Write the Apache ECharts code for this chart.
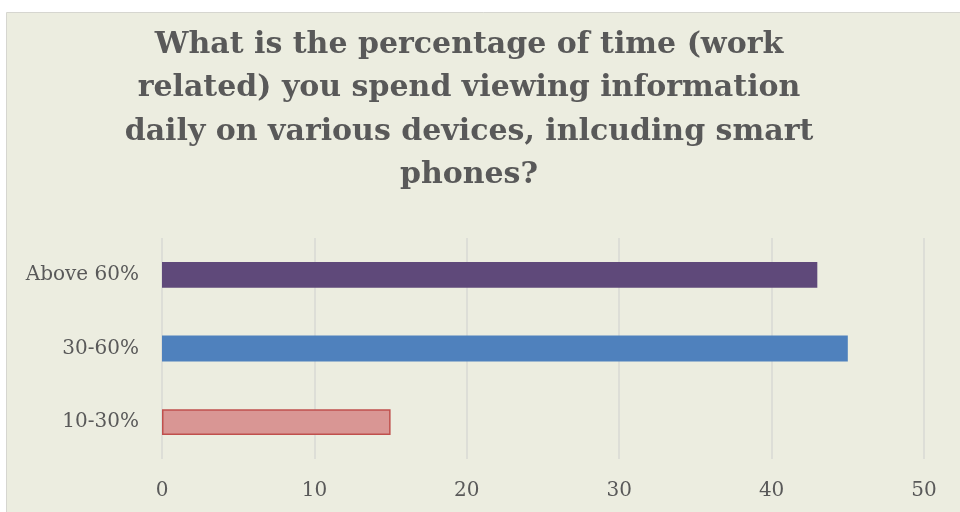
<!DOCTYPE html>
<html>
<head>
<meta charset="utf-8">
<script src="https://cdn.jsdelivr.net/npm/echarts@6/dist/echarts.min.js"></script>
<style>
  html, body { margin: 0; padding: 0; background: #ffffff; }
  #chart { width: 960px; height: 512px; }
</style>
</head>
<body>
<div id="chart"></div>
<script>
// Survey answers: share of daily work-related screen time
const categories = ['10-30%', '30-60%', 'Above 60%'];
const responses = [15, 45, 43];
const barColors = ['#D99694', '#4F81BD', '#5F497A'];
const barBorders = ['#C0504D', '#4F81BD', '#5F497A'];
const xTicks = { min: 0, max: 50, interval: 10 };

const titleLines = [
  'What is the percentage of time (work',
  'related) you spend viewing information',
  'daily on various devices, inlcuding smart',
  'phones?'
];

const chart = echarts.init(document.getElementById('chart'), null, { renderer: 'canvas' });

const serif = '"DejaVu Serif", "Liberation Serif", serif';

chart.setOption({
  backgroundColor: '#ffffff',
  animation: false,
  graphic: [{
    type: 'rect',
    z: -100,
    shape: { x: 6.5, y: 12.5, width: 960, height: 505 },
    style: { fill: '#ECEDE0', stroke: '#D6D6D0', lineWidth: 1 }
  }],
  title: {
    text: titleLines.join('\n'),
    left: 464,
    top: 18,
    textAlign: 'center',
    textStyle: {
      fontFamily: serif,
      fontWeight: 'bold',
      fontSize: 30,
      lineHeight: 43.5,
      color: '#595959'
    }
  },
  grid: { left: 162, right: 36, top: 238, bottom: 53, containLabel: false },
  xAxis: {
    type: 'value',
    min: xTicks.min,
    max: xTicks.max,
    interval: xTicks.interval,
    axisLine: { show: false },
    axisTick: { show: false },
    splitLine: { show: true, lineStyle: { color: '#D9D9D4', width: 1.5 } },
    axisLabel: { fontFamily: serif, fontSize: 20, color: '#595959', margin: 22 }
  },
  yAxis: {
    type: 'category',
    data: categories,
    axisLine: { show: false },
    axisTick: { show: false },
    axisLabel: { fontFamily: serif, fontSize: 20, color: '#595959', margin: 23 }
  },
  series: [{
    type: 'bar',
    barWidth: '35%',
    data: responses.map((v, i) => ({
      value: v,
      itemStyle: { color: barColors[i], borderColor: barBorders[i], borderWidth: i === 0 ? 1.5 : 0 }
    }))
  }]
});
</script>
</body>
</html>
